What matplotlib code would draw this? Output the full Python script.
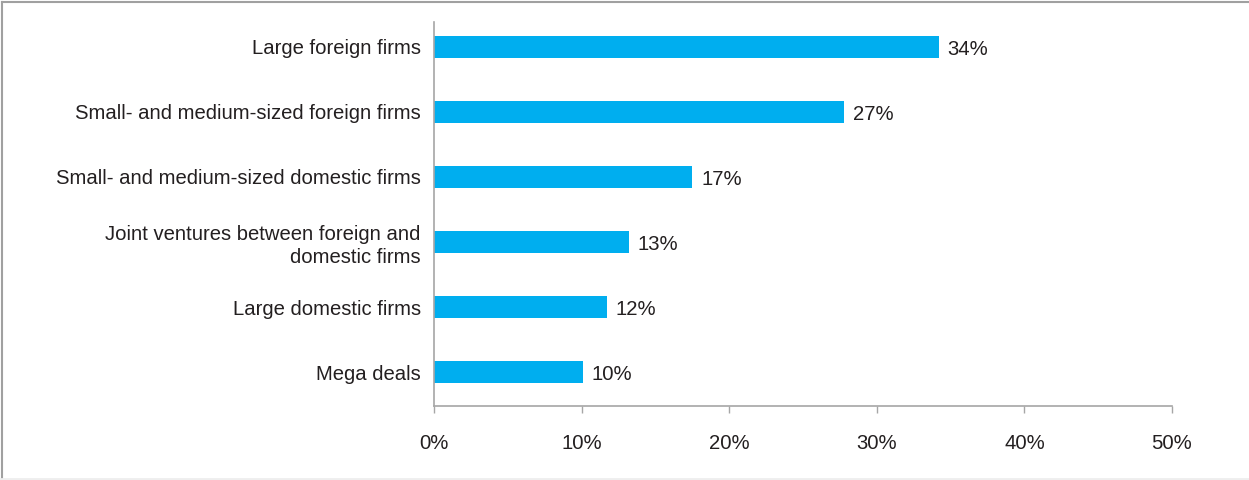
import matplotlib.pyplot as plt
from matplotlib.lines import Line2D
from matplotlib.ticker import FuncFormatter

# data (top to bottom)
categories = [
    'Large foreign firms',
    'Small- and medium-sized foreign firms',
    'Small- and medium-sized domestic firms',
    'Joint ventures between foreign and\ndomestic firms',
    'Large domestic firms',
    'Mega deals',
]
shares = [34.2, 27.8, 17.5, 13.2, 11.7, 10.1]
share_labels = ['34%', '27%', '17%', '13%', '12%', '10%']
x_ticks = [0, 10, 20, 30, 40, 50]

plt.rcParams['font.family'] = ['Liberation Sans', 'DejaVu Sans']

bar_color = '#00AEEF'
text_color = '#231F20'
axis_color = '#A6A6A6'
fs = 14.6

fig = plt.figure(figsize=(12.49, 4.8), dpi=100)
ax = fig.add_axes([434 / 1249, 1 - 406 / 480, (1172 - 434) / 1249, (406 - 22) / 480])

ypos = list(range(len(categories)))
ax.barh(ypos, shares, height=0.34, color=bar_color)

for y, v, lab in zip(ypos, shares, share_labels):
    ax.text(v + 0.6, y + 0.04, lab, va='center', ha='left', fontsize=fs, color=text_color)

ax.set_xlim(0, 50)
ax.set_ylim(5.52, -0.38)
ax.set_yticks(ypos)
ax.set_yticklabels(categories, fontsize=fs, color=text_color, linespacing=1.3)
ax.tick_params(axis='y', length=0, pad=9.5)

ax.set_xticks(x_ticks)
ax.xaxis.set_major_formatter(FuncFormatter(lambda v, p: f'{v:.0f}%'))
ax.tick_params(axis='x', direction='out', length=5, width=1, color=axis_color,
               labelsize=fs, labelcolor=text_color, pad=15)

for side in ['top', 'right']:
    ax.spines[side].set_visible(False)
for side in ['left', 'bottom']:
    ax.spines[side].set_color(axis_color)
    ax.spines[side].set_linewidth(1.2)

# outer frame: left and top edges, faint bottom edge
fig.lines.append(Line2D([1.5 / 1249, 1.5 / 1249], [0, 1 - 1.5 / 480],
                        transform=fig.transFigure, color='#A0A0A0', lw=1.5))
fig.lines.append(Line2D([1.5 / 1249, 1], [1 - 1.5 / 480, 1 - 1.5 / 480],
                        transform=fig.transFigure, color='#A0A0A0', lw=1.5))
fig.lines.append(Line2D([0, 1], [1 / 480, 1 / 480],
                        transform=fig.transFigure, color='#EEEEEE', lw=2))

fig.savefig('out.png', dpi=100, facecolor='white')
